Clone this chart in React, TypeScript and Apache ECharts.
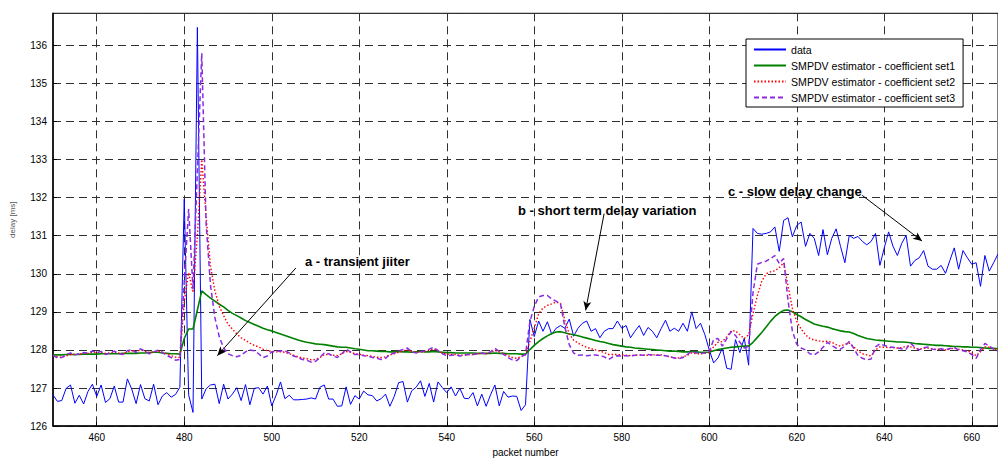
import React, { useEffect, useRef } from 'react';
import * as echarts from 'echarts';

const FONT = '"Liberation Sans", Arial, sans-serif';

// packet numbers run from FIRST_PACKET, one value per packet
const FIRST_PACKET = 450;
const X_MIN = 450;
const X_MAX = 666;
const X_TICKS = [460, 480, 500, 520, 540, 560, 580, 600, 620, 640, 660];
const Y_MIN = 126;
const Y_MAX = 136.84;

const SERIES_NAMES = [
  'data',
  'SMPDV estimator - coefficient set1',
  'SMPDV estimator - coefficient set2',
  'SMPDV estimator - coefficient set3',
];

const DATA = [
  126.82, 126.65, 126.67, 126.99, 127.08, 126.60, 126.81, 126.58, 126.91, 127.10,
  126.78, 127.08, 126.62, 126.72, 127.05, 126.63, 126.63, 127.24, 126.97, 126.59,
  127.09, 126.72, 126.66, 127.10, 126.56, 126.79, 126.88, 126.76, 126.83, 127.02,
  131.96, 126.82, 126.36, 136.47, 126.71, 126.98, 127.08, 127.10, 126.59, 127.10,
  126.71, 126.84, 127.01, 126.67, 127.09, 126.56, 126.99, 127.01, 126.84, 127.05,
  126.53, 126.81, 127.16, 126.72, 126.81, 126.69, 126.69, 126.70, 126.71, 126.74,
  126.71, 127.02, 127.08, 126.71, 126.71, 126.52, 126.53, 127.03, 126.57, 126.80,
  126.71, 126.92, 126.82, 126.80, 126.66, 126.72, 126.84, 126.52, 126.78, 127.14,
  127.17, 126.63, 126.93, 127.02, 127.19, 126.78, 127.12, 126.63, 127.16, 127.01,
  126.88, 127.03, 126.79, 126.99, 126.73, 126.72, 126.88, 126.53, 126.84, 126.52,
  126.82, 127.08, 126.53, 126.91, 126.76, 126.79, 126.78, 126.41, 126.56, 128.80,
  128.35, 128.76, 128.49, 128.74, 128.41, 128.57, 128.64, 128.57, 128.81, 128.36,
  128.57, 128.70, 128.76, 128.49, 128.56, 128.32, 128.49, 128.56, 128.56, 128.76,
  128.57, 128.64, 128.32, 128.49, 128.64, 128.38, 128.59, 128.49, 128.32, 128.56,
  128.78, 128.49, 128.57, 128.49, 128.70, 128.49, 129.00, 128.56, 128.70, 128.40,
  128.00, 127.66, 127.79, 128.05, 127.52, 127.49, 128.27, 127.93, 128.31, 127.60,
  131.19, 131.06, 131.04, 131.06, 131.10, 131.23, 130.59, 131.40, 131.47, 130.97,
  131.27, 131.36, 130.72, 131.06, 130.93, 130.48, 131.16, 130.50, 130.93, 131.18,
  130.72, 130.29, 131.01, 130.93, 130.98, 130.85, 130.76, 130.85, 131.06, 130.22,
  130.68, 131.10, 130.72, 130.48, 130.80, 131.01, 130.20, 130.35, 130.42, 130.61,
  130.20, 130.12, 130.12, 130.22, 130.01, 130.35, 130.68, 130.12, 130.61, 130.42,
  130.25, 130.29, 129.67, 130.48, 130.07, 130.29, 130.52,
];

const SET1 = [
  127.87, 127.87, 127.87, 127.88, 127.88, 127.88, 127.88, 127.89, 127.89, 127.89,
  127.89, 127.90, 127.90, 127.90, 127.90, 127.90, 127.91, 127.91, 127.91, 127.91,
  127.92, 127.92, 127.93, 127.94, 127.94, 127.92, 127.91, 127.90, 127.90, 127.89,
  128.30, 128.55, 128.55, 129.05, 129.55, 129.45, 129.36, 129.28, 129.20, 129.13,
  129.04, 128.96, 128.90, 128.84, 128.77, 128.72, 128.67, 128.62, 128.57, 128.53,
  128.50, 128.46, 128.42, 128.38, 128.34, 128.30, 128.26, 128.23, 128.20, 128.18,
  128.16, 128.15, 128.14, 128.12, 128.10, 128.08, 128.07, 128.07, 128.05, 128.03,
  128.02, 128.00, 127.98, 127.98, 127.97, 127.96, 127.96, 127.95, 127.95, 127.96,
  127.95, 127.95, 127.94, 127.95, 127.96, 127.95, 127.95, 127.96, 127.95, 127.94,
  127.93, 127.93, 127.92, 127.92, 127.92, 127.92, 127.92, 127.91, 127.91, 127.91,
  127.91, 127.92, 127.91, 127.91, 127.90, 127.90, 127.90, 127.89, 127.89, 128.01,
  128.12, 128.22, 128.30, 128.37, 128.43, 128.47, 128.48, 128.45, 128.42, 128.40,
  128.37, 128.34, 128.31, 128.28, 128.25, 128.22, 128.20, 128.17, 128.14, 128.12,
  128.10, 128.08, 128.07, 128.05, 128.04, 128.03, 128.02, 128.01, 128.00, 127.99,
  127.98, 127.97, 127.97, 127.96, 127.95, 127.95, 127.96, 127.95, 127.94, 127.94,
  127.94, 127.98, 128.01, 128.03, 128.05, 128.07, 128.08, 128.09, 128.10, 128.10,
  128.20, 128.33, 128.46, 128.60, 128.75, 128.88, 128.97, 129.04, 129.05, 129.00,
  128.93, 128.87, 128.80, 128.74, 128.68, 128.65, 128.62, 128.60, 128.56, 128.53,
  128.50, 128.48, 128.47, 128.43, 128.38, 128.34, 128.30, 128.28, 128.26, 128.25,
  128.24, 128.23, 128.22, 128.21, 128.21, 128.20, 128.19, 128.17, 128.16, 128.15,
  128.14, 128.13, 128.12, 128.12, 128.11, 128.10, 128.09, 128.09, 128.08, 128.08,
  128.07, 128.07, 128.06, 128.05, 128.04, 128.04, 128.03,
];

const SET2 = [
  127.86, 127.82, 127.81, 127.84, 127.88, 127.88, 127.89, 127.91, 127.91, 127.94,
  127.93, 127.94, 127.91, 127.92, 127.95, 127.92, 127.90, 127.95, 127.98, 127.95,
  128.00, 127.97, 127.93, 127.95, 127.97, 127.94, 127.90, 127.85, 127.81, 127.80,
  129.26, 130.03, 129.51, 131.00, 133.00, 131.50, 130.20, 129.55, 129.15, 128.90,
  128.68, 128.55, 128.42, 128.32, 128.25, 128.18, 128.12, 128.08, 128.02, 127.98,
  127.96, 127.95, 127.95, 127.94, 127.90, 127.86, 127.82, 127.79, 127.77, 127.74,
  127.75, 127.80, 127.88, 127.88, 127.86, 127.85, 127.90, 127.96, 127.94, 127.90,
  127.89, 127.86, 127.85, 127.83, 127.81, 127.80, 127.82, 127.87, 127.90, 127.94,
  127.97, 128.00, 127.96, 127.94, 127.95, 127.96, 127.99, 128.03, 127.98, 127.92,
  127.89, 127.88, 127.88, 127.86, 127.87, 127.88, 127.88, 127.90, 127.91, 127.90,
  127.93, 127.99, 127.95, 127.90, 127.85, 127.80, 127.78, 127.83, 127.87, 128.22,
  128.57, 128.95, 129.10, 129.17, 129.21, 129.26, 129.22, 128.78, 128.42, 128.26,
  128.18, 128.12, 128.07, 128.03, 128.00, 127.97, 127.93, 127.88, 127.88, 127.88,
  127.87, 127.86, 127.85, 127.86, 127.87, 127.86, 127.86, 127.87, 127.87, 127.87,
  127.85, 127.82, 127.80, 127.79, 127.82, 127.86, 127.92, 127.90, 127.90, 127.91,
  127.93, 128.08, 128.20, 128.22, 128.35, 128.50, 128.50, 128.40, 128.30, 128.40,
  128.95, 129.43, 129.80, 130.00, 130.05, 130.08, 130.16, 130.29, 129.69, 129.09,
  128.75, 128.55, 128.40, 128.30, 128.26, 128.24, 128.22, 128.23, 128.20, 128.14,
  128.10, 128.15, 128.18, 128.08, 127.98, 127.90, 127.87, 127.84, 128.00, 128.08,
  128.07, 128.06, 128.06, 128.05, 128.06, 128.10, 128.08, 128.05, 128.02, 128.04,
  128.05, 128.02, 128.02, 128.02, 128.00, 128.02, 128.05, 128.02, 128.00, 127.97,
  127.93, 127.85, 127.95, 128.08, 128.07, 128.03, 128.00,
];

const SET3 = [
  127.86, 127.79, 127.80, 127.88, 127.92, 127.87, 127.90, 127.93, 127.92, 127.97,
  127.93, 127.96, 127.88, 127.92, 127.97, 127.90, 127.88, 127.98, 128.01, 127.93,
  128.03, 127.97, 127.90, 127.95, 127.99, 127.93, 127.86, 127.80, 127.73, 127.75,
  129.80, 131.70, 129.60, 132.70, 135.79, 131.30, 129.70, 128.85, 128.35, 128.05,
  127.90, 127.85, 127.82, 127.86, 127.95, 128.00, 127.98, 127.90, 127.80, 127.84,
  127.95, 127.96, 127.97, 127.98, 127.92, 127.84, 127.80, 127.75, 127.73, 127.68,
  127.70, 127.80, 127.92, 127.90, 127.84, 127.80, 127.90, 128.02, 127.95, 127.88,
  127.88, 127.85, 127.84, 127.80, 127.78, 127.75, 127.78, 127.88, 127.92, 127.97,
  128.01, 128.05, 127.95, 127.92, 127.95, 127.97, 128.02, 128.07, 127.98, 127.90,
  127.85, 127.86, 127.87, 127.84, 127.86, 127.88, 127.88, 127.90, 127.92, 127.90,
  127.95, 128.04, 127.96, 127.88, 127.80, 127.74, 127.72, 127.82, 127.88, 128.74,
  129.14, 129.39, 129.43, 129.43, 129.34, 129.28, 129.21, 128.60, 128.14, 127.92,
  127.86, 127.87, 127.85, 127.86, 127.87, 127.85, 127.82, 127.75, 127.82, 127.85,
  127.84, 127.85, 127.84, 127.86, 127.87, 127.86, 127.88, 127.87, 127.86, 127.86,
  127.85, 127.82, 127.79, 127.77, 127.80, 127.88, 127.97, 127.92, 127.91, 127.92,
  127.95, 128.27, 128.30, 128.10, 128.30, 128.48, 128.38, 128.20, 128.05, 128.10,
  129.50, 130.25, 130.30, 130.33, 130.40, 130.48, 130.27, 130.40, 129.30, 128.50,
  128.15, 128.05, 128.00, 127.90, 127.87, 127.95, 128.07, 128.20, 128.12, 128.05,
  128.02, 128.10, 128.22, 128.05, 127.85, 127.78, 127.74, 127.76, 128.08, 128.16,
  128.12, 128.08, 128.07, 128.05, 128.03, 128.02, 128.18, 128.07, 128.00, 128.06,
  128.08, 128.02, 128.01, 128.03, 128.00, 128.04, 128.06, 128.00, 127.98, 127.95,
  127.88, 127.78, 128.00, 128.17, 128.10, 128.02, 127.97,
];

// annotation texts (pixel placement) and arrows (data coordinates: [packet, value])
const NOTE_TEXTS = ['a - transient jiiter', 'b - short term delay variation', 'c - slow delay change'];
const NOTE_X = [305, 518, 728];
const NOTE_Y = [261, 210, 191];
const ARROW_FROM = [[505.5, 130.15], [575.97, 131.58], [634.95, 132.06]];
const ARROW_TO = [[487.56, 127.85], [571.75, 129.04], [648.64, 130.86]];

const toPairs = (values: number[]) => values.map((v, i) => [FIRST_PACKET + i, v]);

export default function App() {
  const ref = useRef<HTMLDivElement>(null);

  useEffect(() => {
    if (!ref.current) return;
    const chart = echarts.init(ref.current, undefined, { renderer: 'svg' });

    const gridLine = { show: true, lineStyle: { color: '#303030', width: 1, type: [8, 5] as any } };

    const option: any = {
      animation: false,
      backgroundColor: '#ffffff',
      grid: {
        left: 52.5,
        top: 13.3,
        width: 947,
        height: 420,
        show: true,
        borderColor: '#000',
        borderWidth: 1,
        backgroundColor: 'transparent',
      },
      legend: {
        data: SERIES_NAMES,
        orient: 'vertical',
        left: 746,
        top: 39,
        padding: [5, 8, 4, 7],
        itemGap: 5,
        itemWidth: 32,
        itemHeight: 10,
        backgroundColor: '#ffffff',
        borderColor: '#000',
        borderWidth: 1,
        selectedMode: false,
        itemStyle: { opacity: 0, color: 'rgba(0,0,0,0)', borderWidth: 0 },
        textStyle: { fontSize: 10.6, fontFamily: FONT, color: '#000' },
      },
      xAxis: {
        type: 'value',
        min: X_MIN,
        max: X_MAX,
        name: 'packet number',
        nameLocation: 'middle',
        nameGap: 17,
        nameTextStyle: { fontSize: 10, fontFamily: FONT, color: '#000' },
        axisLine: { show: true, onZero: false, lineStyle: { color: '#000', width: 1.5 } },
        axisTick: { show: true, inside: true, length: 4, customValues: X_TICKS, lineStyle: { color: '#000' } },
        axisLabel: { customValues: X_TICKS, fontSize: 10, fontFamily: FONT, color: '#000', margin: 6 },
        splitLine: gridLine,
      },
      yAxis: {
        type: 'value',
        min: Y_MIN,
        max: Y_MAX,
        interval: 1,
        name: 'delay [ms]',
        nameLocation: 'middle',
        nameGap: 37,
        nameTextStyle: { fontSize: 8, fontFamily: FONT, color: '#555' },
        axisLine: { show: true, onZero: false, lineStyle: { color: '#000', width: 1.5 } },
        axisTick: { show: true, inside: true, length: 4, lineStyle: { color: '#000' } },
        axisLabel: { fontSize: 10, fontFamily: FONT, color: '#000', margin: 6, showMaxLabel: false },
        splitLine: gridLine,
      },
      graphic: NOTE_TEXTS.map((t, i) => ({
        type: 'text',
        x: NOTE_X[i],
        y: NOTE_Y[i],
        z: 100,
        style: {
          text: t,
          fontSize: 13,
          fontWeight: 'bold',
          fontFamily: FONT,
          fill: '#000',
          verticalAlign: 'middle',
        },
      })),
      series: [
        {
          name: SERIES_NAMES[0],
          type: 'line',
          data: toPairs(DATA),
          symbol: 'none',
          color: '#0000ff',
          lineStyle: { color: '#0000ff', width: 1 },
          z: 2,
          markLine: {
            silent: true,
            symbol: ['none', 'arrow'],
            symbolSize: [6, 9],
            label: { show: false },
            lineStyle: { color: '#000', width: 1, type: 'solid' },
            data: ARROW_FROM.map((a, i) => [{ coord: a }, { coord: ARROW_TO[i] }]),
          },
        },
        {
          name: SERIES_NAMES[1],
          type: 'line',
          data: toPairs(SET1),
          symbol: 'none',
          color: '#008000',
          lineStyle: { color: '#008000', width: 1.6 },
          z: 3,
        },
        {
          name: SERIES_NAMES[2],
          type: 'line',
          data: toPairs(SET2),
          symbol: 'none',
          color: '#ff0000',
          lineStyle: { color: '#ff0000', width: 1.4, type: [1.5, 2] },
          z: 4,
        },
        {
          name: SERIES_NAMES[3],
          type: 'line',
          data: toPairs(SET3),
          symbol: 'none',
          color: '#8a2be2',
          lineStyle: { color: '#8a2be2', width: 1.5, type: [5, 3] },
          z: 5,
        },
      ],
    };

    chart.setOption(option);
    return () => chart.dispose();
  }, []);

  return (
    <div
      ref={ref}
      style={{ position: 'fixed', left: 0, top: 0, width: 998, height: 462, background: '#fff' }}
    />
  );
}
